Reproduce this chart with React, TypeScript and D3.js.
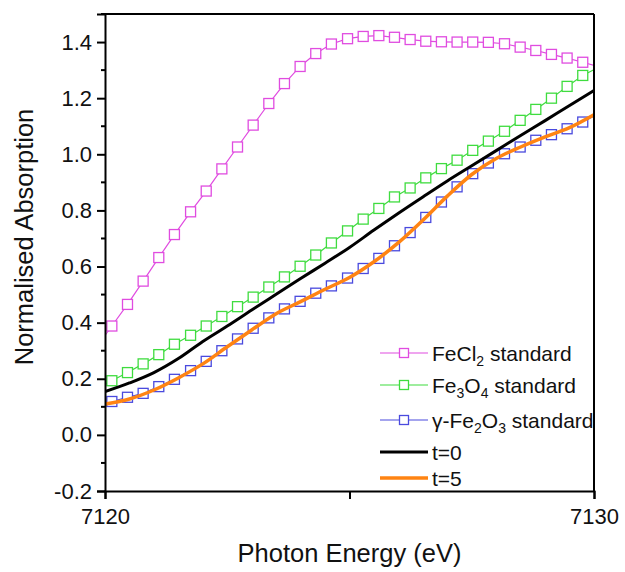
import * as d3 from 'd3';
import React, { useEffect, useRef } from 'react';

// marker grid (first/last points sit just outside the axis so lines reach the frame)
const energies = [7119.82, 7120.14, 7120.46, 7120.78, 7121.10, 7121.42, 7121.75, 7122.07, 7122.39, 7122.71,
    7123.03, 7123.35, 7123.67, 7123.99, 7124.31, 7124.63, 7124.96, 7125.28, 7125.60, 7125.92, 7126.24,
    7126.56, 7126.88, 7127.20, 7127.52, 7127.84, 7128.17, 7128.49, 7128.81, 7129.13, 7129.45, 7129.77, 7130.09];

const fecl2 = [0.310, 0.388, 0.465, 0.548, 0.632, 0.714, 0.795, 0.869, 0.948, 1.026, 1.104, 1.181, 1.252,
    1.313, 1.359, 1.393, 1.412, 1.420, 1.423, 1.417, 1.409, 1.403, 1.401, 1.400, 1.400, 1.399, 1.394,
    1.382, 1.370, 1.356, 1.343, 1.328, 1.313];
const fe3o4 = [0.165, 0.193, 0.222, 0.253, 0.286, 0.323, 0.355, 0.388, 0.422, 0.457, 0.491, 0.527, 0.563,
    0.601, 0.641, 0.684, 0.727, 0.769, 0.807, 0.848, 0.880, 0.916, 0.949, 0.979, 1.014, 1.047, 1.082,
    1.121, 1.160, 1.200, 1.242, 1.281, 1.310];
const gfe2o3 = [0.106, 0.119, 0.134, 0.148, 0.172, 0.198, 0.229, 0.262, 0.300, 0.342, 0.380, 0.417, 0.449,
    0.476, 0.505, 0.531, 0.559, 0.593, 0.629, 0.674, 0.721, 0.775, 0.830, 0.884, 0.931, 0.969, 1.002,
    1.026, 1.050, 1.070, 1.091, 1.115, 1.144];

// measured spectra (solid lines)
const tEnergies = [7120, 7120.5, 7121, 7121.5, 7122, 7122.5, 7123, 7123.5, 7124, 7124.5, 7125,
    7125.5, 7126, 7126.5, 7127, 7127.5, 7128, 7128.5, 7129, 7129.5, 7130];
const t0 = [0.154, 0.185, 0.222, 0.272, 0.333, 0.388, 0.445, 0.501, 0.557, 0.612, 0.668,
    0.730, 0.790, 0.848, 0.905, 0.959, 1.013, 1.067, 1.120, 1.174, 1.227];
const t5 = [0.110, 0.128, 0.160, 0.203, 0.253, 0.314, 0.374, 0.432, 0.475, 0.519, 0.561,
    0.617, 0.685, 0.765, 0.851, 0.928, 0.985, 1.026, 1.062, 1.095, 1.141];

const xTicks = [7120, 7125, 7130];
const xTickLabels = ['7120', '', '7130'];
const yMajor = [-0.2, 0, 0.2, 0.4, 0.6, 0.8, 1.0, 1.2, 1.4];
const yMinor = [-0.1, 0.1, 0.3, 0.5, 0.7, 0.9, 1.1, 1.3, 1.5];

const W = 625, H = 572;
const margin = { top: 14, right: 31, bottom: 81, left: 105 };
const font = 'Liberation Sans, Arial, Helvetica, sans-serif';

const symbolSeries = [
    { name: [['FeCl', 0], ['2', 1], [' standard', 0]], values: fecl2, color: '#e04ce0' },
    { name: [['Fe', 0], ['3', 1], ['O', 0], ['4', 1], [' standard', 0]], values: fe3o4, color: '#3fdc3f' },
    { name: [['\u03b3-Fe', 0], ['2', 1], ['O', 0], ['3', 1], [' standard', 0]], values: gfe2o3, color: '#4a4ade' },
];
const lineSeries = [
    { name: [['t=0', 0]], values: t0, color: '#000000', width: 3 },
    { name: [['t=5', 0]], values: t5, color: '#ff8412', width: 3.5 },
];
const legendRows = [353, 385, 420, 452, 478];

export default function App() {
    const ref = useRef<SVGSVGElement>(null);

    useEffect(() => {
        const svg = d3.select(ref.current);
        svg.selectAll('*').remove();
        const w = W - margin.left - margin.right;
        const h = H - margin.top - margin.bottom;

        const x = d3.scaleLinear().domain([7120, 7130]).range([0, w]);
        const y = d3.scaleLinear().domain([-0.2, 1.5]).range([h, 0]);

        const g = svg.append('g').attr('transform', `translate(${margin.left},${margin.top})`);
        g.append('clipPath').attr('id', 'plot-clip')
            .append('rect').attr('width', w).attr('height', h);
        const plot = g.append('g').attr('clip-path', 'url(#plot-clip)');

        const line = d3.line<[number, number]>().x(d => x(d[0])).y(d => y(d[1]));
        const smooth = d3.line<[number, number]>().x(d => x(d[0])).y(d => y(d[1])).curve(d3.curveMonotoneX);

        // standards: thin line + open squares
        symbolSeries.forEach(s => {
            const pts = energies.map((e, i) => [e, s.values[i]] as [number, number]);
            plot.append('path').attr('d', line(pts)).attr('fill', 'none')
                .attr('stroke', s.color).attr('stroke-width', 1.2);
            plot.append('g').selectAll('rect')
                .data(pts.filter(p => p[0] >= 7120 && p[0] <= 7130))
                .enter().append('rect')
                .attr('x', d => x(d[0]) - 5).attr('y', d => y(d[1]) - 5)
                .attr('width', 10).attr('height', 10)
                .attr('fill', '#fff').attr('stroke', s.color).attr('stroke-width', 1.3);
        });

        lineSeries.forEach(s => {
            const pts = tEnergies.map((e, i) => [e, s.values[i]] as [number, number]);
            plot.append('path').attr('d', smooth(pts)).attr('fill', 'none')
                .attr('stroke', s.color).attr('stroke-width', s.width);
        });

        // axes
        const xAxis = g.append('g').attr('transform', `translate(0,${h})`)
            .call(d3.axisBottom(x).tickValues(xTicks).tickSize(8).tickPadding(9)
                .tickFormat((d, i) => xTickLabels[i]));
        const yAxis = g.append('g')
            .call(d3.axisLeft(y).tickValues(yMajor).tickSize(8).tickPadding(5)
                .tickFormat(d => (+d).toFixed(1)));
        g.append('g').selectAll('line').data(yMinor).enter().append('line')
            .attr('x1', -4).attr('x2', 0).attr('y1', d => y(d)).attr('y2', d => y(d))
            .attr('stroke', '#000').attr('stroke-width', 2);
        [xAxis, yAxis].forEach(a => {
            a.select('.domain').attr('stroke-width', 2);
            a.selectAll('.tick line').attr('stroke-width', 2);
            a.selectAll('.tick text').attr('font-family', font).attr('font-size', 22).attr('fill', '#111');
        });
        g.append('line').attr('x1', 0).attr('x2', w).attr('y1', 0).attr('y2', 0)
            .attr('stroke', '#000').attr('stroke-width', 2);
        g.append('line').attr('x1', w).attr('x2', w).attr('y1', 0).attr('y2', h)
            .attr('stroke', '#000').attr('stroke-width', 2);

        // axis titles
        svg.append('text').attr('x', margin.left + w / 2).attr('y', 562)
            .attr('text-anchor', 'middle').attr('font-family', font).attr('font-size', 25.5).attr('fill', '#111')
            .text('Photon Energy (eV)');
        svg.append('text').attr('transform', 'translate(33,237) rotate(-90)')
            .attr('text-anchor', 'middle').attr('font-family', font).attr('font-size', 25.5).attr('fill', '#111')
            .text('Normalised Absorption');

        // legend
        const all = [...symbolSeries.map(s => ({ ...s, marker: true, width: 1.2 })),
            ...lineSeries.map(s => ({ ...s, marker: false }))];
        all.forEach((s, i) => {
            const row = svg.append('g').attr('transform', `translate(380,${legendRows[i]})`);
            row.append('line').attr('x1', 0).attr('x2', 48).attr('y1', 0).attr('y2', 0)
                .attr('stroke', s.color).attr('stroke-width', s.width);
            if (s.marker) {
                row.append('rect').attr('x', -4.5 + 24).attr('y', -4.5).attr('width', 9).attr('height', 9)
                    .attr('fill', '#fff').attr('stroke', s.color).attr('stroke-width', 1.3);
            }
            const t = row.append('text').attr('x', 52).attr('y', 7.5)
                .attr('font-family', font).attr('font-size', 21).attr('fill', '#111');
            let shifted = false;
            (s.name as [string, number][]).forEach(([txt, sub]) => {
                const sp = t.append('tspan').text(txt);
                if (sub && !shifted) { sp.attr('dy', 5).attr('font-size', 14); shifted = true; }
                else if (sub) { sp.attr('font-size', 14); }
                else if (shifted) { sp.attr('dy', -5); shifted = false; }
            });
        });
    }, []);

    return (
        <svg ref={ref} width={W} height={H}
            style={{ position: 'absolute', left: 0, top: 0, background: '#fff' }}>
        </svg>
    );
}
